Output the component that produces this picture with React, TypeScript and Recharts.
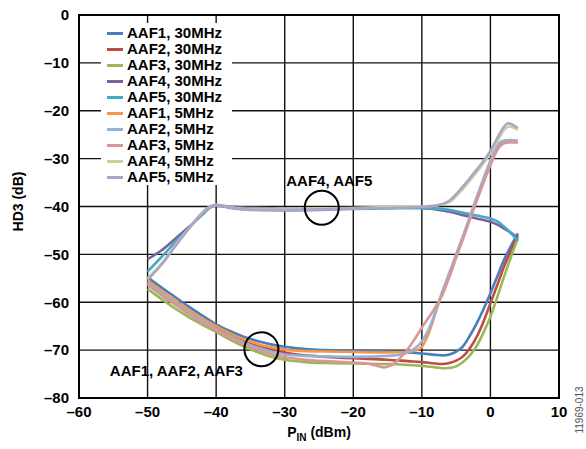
import React from 'react';
import { LineChart, Line, XAxis, YAxis, CartesianGrid, ReferenceArea, ReferenceDot, Legend, Label } from 'recharts';

const FONT = '"Liberation Sans", Arial, Helvetica, sans-serif';

const X_TICKS = [-60, -50, -40, -30, -20, -10, 0, 10];
const Y_TICKS = [0, -10, -20, -30, -40, -50, -60, -70, -80];

const SERIES_NAMES = [
  'AAF1, 30MHz', 'AAF2, 30MHz', 'AAF3, 30MHz', 'AAF4, 30MHz', 'AAF5, 30MHz',
  'AAF1, 5MHz', 'AAF2, 5MHz', 'AAF3, 5MHz', 'AAF4, 5MHz', 'AAF5, 5MHz',
];
const SERIES_COLORS = [
  '#4a7ebb', '#be4b48', '#98b954', '#7d60a0', '#46aac5',
  '#f79646', '#95b3d7', '#d99694', '#c3d69b', '#b3a2c7',
];

const aaf1_30: [number, number][] = [[-50,-54.8],[-48,-56.9],[-46,-58.9],[-44,-60.9],[-42,-62.8],[-40,-64.6],[-38,-66.0],[-36,-67.2],[-34,-68.1],[-32,-68.8],[-30,-69.3],[-27,-69.8],[-24,-70.0],[-20,-70.1],[-15,-70.3],[-12,-70.5],[-10,-70.7],[-8,-71.0],[-7,-71.1],[-6,-70.9],[-5,-70.3],[-4,-69.2],[-3,-67.0],[-2,-64.4],[-1,-61.4],[0,-58.1],[1,-54.6],[2,-51.1],[3,-48.2],[4,-45.6]];
const aaf2_30: [number, number][] = [[-50,-55.8],[-48,-57.9],[-46,-59.9],[-44,-61.9],[-42,-63.7],[-40,-65.3],[-38,-66.7],[-36,-67.9],[-34,-69.0],[-32,-69.8],[-30,-70.5],[-27,-71.1],[-24,-71.4],[-20,-71.7],[-15,-72.0],[-12,-72.3],[-10,-72.5],[-8,-72.8],[-7,-72.9],[-6,-72.7],[-5,-72.2],[-4,-71.3],[-3,-69.6],[-2,-67.2],[-1,-64.0],[0,-60.2],[1,-56.4],[2,-52.5],[3,-49.2],[4,-46.0]];
const aaf3_30: [number, number][] = [[-50,-57.2],[-48,-59.3],[-46,-61.3],[-44,-63.1],[-42,-64.7],[-40,-66.2],[-38,-67.8],[-36,-69.2],[-34,-70.4],[-32,-71.4],[-30,-72.0],[-27,-72.5],[-24,-72.7],[-20,-72.8],[-15,-72.9],[-12,-73.1],[-10,-73.3],[-8,-73.6],[-6.5,-73.8],[-5,-73.4],[-4,-72.5],[-3,-71.1],[-2,-69.1],[-1,-66.3],[0,-63.0],[1,-58.9],[2,-54.6],[3,-50.5],[4,-46.6]];
const aaf4_30: [number, number][] = [[-50,-51.0],[-48,-49.2],[-46,-46.8],[-44,-44.3],[-42,-41.7],[-41,-40.3],[-40,-39.8],[-38,-40.0],[-36,-40.2],[-33,-40.3],[-30,-40.5],[-25,-40.5],[-20,-40.3],[-15,-40.2],[-10,-40.3],[-8,-40.6],[-6,-41.1],[-4,-41.8],[-2,-42.5],[0,-43.2],[1,-43.8],[2,-44.6],[3,-45.5],[4,-46.6]];
const aaf5_30: [number, number][] = [[-50,-53.6],[-48,-50.6],[-46,-47.5],[-44,-44.5],[-42,-41.6],[-41,-40.3],[-40,-39.8],[-38,-40.3],[-35,-40.7],[-30,-40.8],[-25,-40.7],[-20,-40.5],[-15,-40.4],[-10,-40.3],[-8,-40.4],[-6,-40.7],[-4,-41.3],[-2,-41.9],[0,-42.5],[1,-43.1],[2,-44.2],[3,-45.6],[4,-47.2]];
const aaf1_5: [number, number][] = [[-50,-55.4],[-48,-57.6],[-46,-59.6],[-44,-61.6],[-42,-63.4],[-40,-65.0],[-38,-66.5],[-36,-67.7],[-34,-68.7],[-32,-69.4],[-30,-69.9],[-27,-70.2],[-24,-70.3],[-20,-70.4],[-15,-70.5],[-12,-70.4],[-11,-70.1],[-10,-69.3],[-9,-66.5],[-8,-62.2],[-7,-57.9],[-6,-54.0],[-5,-50.2],[-4,-46.3],[-3,-42.3],[-2,-38.3],[-1,-34.4],[0,-30.7],[1,-27.5],[2,-26.5],[3,-26.3],[4,-26.4]];
const aaf2_5: [number, number][] = [[-50,-56.0],[-48,-58.1],[-46,-60.1],[-44,-62.1],[-42,-63.9],[-40,-65.6],[-38,-67.1],[-36,-68.4],[-34,-69.5],[-32,-70.3],[-30,-70.9],[-27,-71.2],[-24,-71.3],[-20,-71.4],[-15,-71.2],[-13,-70.9],[-12,-70.4],[-11,-69.6],[-10,-68.2],[-9,-65.6],[-8,-61.9],[-7,-57.7],[-6,-53.9],[-5,-50.0],[-4,-46.2],[-3,-42.1],[-2,-38.0],[-1,-34.1],[0,-30.4],[1,-27.2],[2,-26.2],[3,-26.1],[4,-26.2]];
const aaf3_5: [number, number][] = [[-50,-56.4],[-48,-58.5],[-46,-60.5],[-44,-62.5],[-42,-64.3],[-40,-65.9],[-38,-67.4],[-36,-68.7],[-34,-69.9],[-32,-70.8],[-30,-71.5],[-27,-72.0],[-24,-72.3],[-20,-72.6],[-18,-72.8],[-16.5,-73.3],[-15.5,-73.6],[-14.5,-73.2],[-13.5,-72.1],[-12.5,-70.6],[-11,-67.6],[-10,-65.3],[-9,-63.2],[-8,-61.0],[-7,-58.4],[-6,-54.8],[-5,-50.7],[-4,-46.8],[-3,-42.8],[-2,-38.8],[-1,-35.0],[0,-31.4],[1,-28.2],[2,-26.8],[3,-26.6],[4,-26.6]];
const aaf4_5: [number, number][] = [[-50,-55.0],[-48,-52.0],[-46,-48.2],[-44,-44.6],[-42,-41.3],[-41,-40.1],[-40,-39.7],[-38,-40.1],[-36,-40.5],[-33,-40.5],[-30,-40.5],[-25,-40.4],[-20,-40.3],[-15,-40.1],[-10,-40.0],[-8,-39.8],[-6,-39.1],[-4,-36.3],[-2,-32.8],[0,-28.9],[1,-26.4],[2,-24.0],[2.7,-23.3],[3.3,-23.5],[4,-24.0]];
const aaf5_5: [number, number][] = [[-50,-55.3],[-48,-52.2],[-46,-48.4],[-44,-44.7],[-42,-41.3],[-41,-40.1],[-40,-39.6],[-38,-40.2],[-36,-40.6],[-33,-40.7],[-30,-40.7],[-25,-40.6],[-20,-40.4],[-15,-40.3],[-10,-40.1],[-8,-39.8],[-6,-38.8],[-4,-35.8],[-2,-32.3],[0,-28.4],[1,-25.7],[2,-23.3],[2.6,-22.6],[3.2,-22.9],[4,-23.6]];

const SERIES_DATA = [aaf1_30, aaf2_30, aaf3_30, aaf4_30, aaf5_30, aaf1_5, aaf2_5, aaf3_5, aaf4_5, aaf5_5];

const ANNOTATIONS = [
  { text: 'AAF4, AAF5', x: -23.5, y: -34.7 },
  { text: 'AAF1, AAF2, AAF3', x: -45.8, y: -74.2 },
];
const CIRCLES = [
  { x: -24.6, y: -40.25 },
  { x: -33.4, y: -69.8 },
];

const fmt = (v: number) => (v < 0 ? '\u2013' + Math.abs(v) : String(v));

const tickStyle = { fill: '#000', fontSize: 15, fontWeight: 'bold', fontFamily: FONT };

const renderLegend = () => (
  <div style={{ background: '#fff', paddingTop: 2, fontFamily: FONT, fontWeight: 'bold', fontSize: 15, color: '#000' }}>
    {SERIES_NAMES.map((n, i) => (
      <div key={n} style={{ display: 'flex', alignItems: 'center', height: 16, lineHeight: '16px', whiteSpace: 'nowrap' }}>
        <span style={{ display: 'inline-block', width: 16, height: 3, marginLeft: 6, marginRight: 4, background: SERIES_COLORS[i] }} />
        <span>{n}</span>
      </div>
    ))}
  </div>
);

const YTitle = (props: any) => {
  const vb = props.viewBox || { x: 0, y: 15, width: 79, height: 383 };
  const cx = vb.x + 18;
  const cy = vb.y + vb.height / 2 - 5;
  return (
    <text x={cx} y={cy} transform={`rotate(-90 ${cx} ${cy})`} textAnchor="middle" dominantBaseline="central"
      fontFamily={FONT} fontWeight="bold" fontSize={14} fill="#000">HD3 (dB)</text>
  );
};

const XTitle = (props: any) => {
  const vb = props.viewBox || { x: 79, y: 398, width: 480, height: 30 };
  const cx = vb.x + vb.width / 2;
  const cy = vb.y + 39;
  const fx = vb.x + vb.width + 20;
  const fy = vb.y + 12;
  return (
    <g>
      <text x={cx} y={cy} textAnchor="middle" fontFamily={FONT} fontWeight="bold" fontSize={14} fill="#000">
        P<tspan dy={4} fontSize={10}>IN</tspan><tspan dy={-4}> (dBm)</tspan>
      </text>
      <text x={fx} y={fy} transform={`rotate(-90 ${fx} ${fy})`} textAnchor="middle" dominantBaseline="central"
        fontFamily={FONT} fontSize={10} fill="#555">11969-013</text>
    </g>
  );
};

export default function App() {
  return (
    <div style={{ position: 'absolute', left: 0, top: 0, width: 586, height: 449, background: '#fff' }}>
      <LineChart width={586} height={449} margin={{ top: 15, right: 27, bottom: 21, left: 0 }}>
        <CartesianGrid stroke="#111" strokeWidth={1.4} />
        <XAxis type="number" dataKey="x" domain={[-60, 10]} ticks={X_TICKS} interval={0} tickFormatter={fmt}
          tickLine={false} axisLine={{ stroke: '#000', strokeWidth: 2 }} tick={tickStyle} height={30} allowDataOverflow>
          <Label content={XTitle} />
        </XAxis>
        <YAxis type="number" dataKey="y" domain={[-80, 0]} ticks={Y_TICKS} interval={0} tickFormatter={fmt}
          tickLine={false} tickMargin={4} axisLine={{ stroke: '#000', strokeWidth: 2 }} tick={tickStyle} width={79} allowDataOverflow>
          <Label content={YTitle} />
        </YAxis>
        <ReferenceArea x1={-60} x2={10} y1={-80} y2={0} fill="none" stroke="#000" strokeWidth={2} ifOverflow="visible" />
        {SERIES_DATA.map((d, i) => (
          <Line key={SERIES_NAMES[i]} name={SERIES_NAMES[i]} data={d.map(([x, y]) => ({ x, y }))} dataKey="y"
            type="monotone" stroke={SERIES_COLORS[i]} strokeWidth={2.6} dot={false} activeDot={false}
            isAnimationActive={false} />
        ))}
        {CIRCLES.map((c, i) => (
          <ReferenceDot key={'c' + i} x={c.x} y={c.y} r={17} fill="none" stroke="#000" strokeWidth={2} ifOverflow="visible" />
        ))}
        {ANNOTATIONS.map((a, i) => (
          <ReferenceDot key={'a' + i} x={a.x} y={a.y} r={0} fill="none" stroke="none" ifOverflow="visible"
            label={{ value: a.text, position: 'center', fill: '#000', fontSize: 15, fontWeight: 'bold', fontFamily: FONT }} />
        ))}
        <Legend layout="vertical" align="center" verticalAlign="middle" content={renderLegend}
          wrapperStyle={{ left: 101, top: 23, width: 131, height: 167, margin: 0 }} />
      </LineChart>
    </div>
  );
}
